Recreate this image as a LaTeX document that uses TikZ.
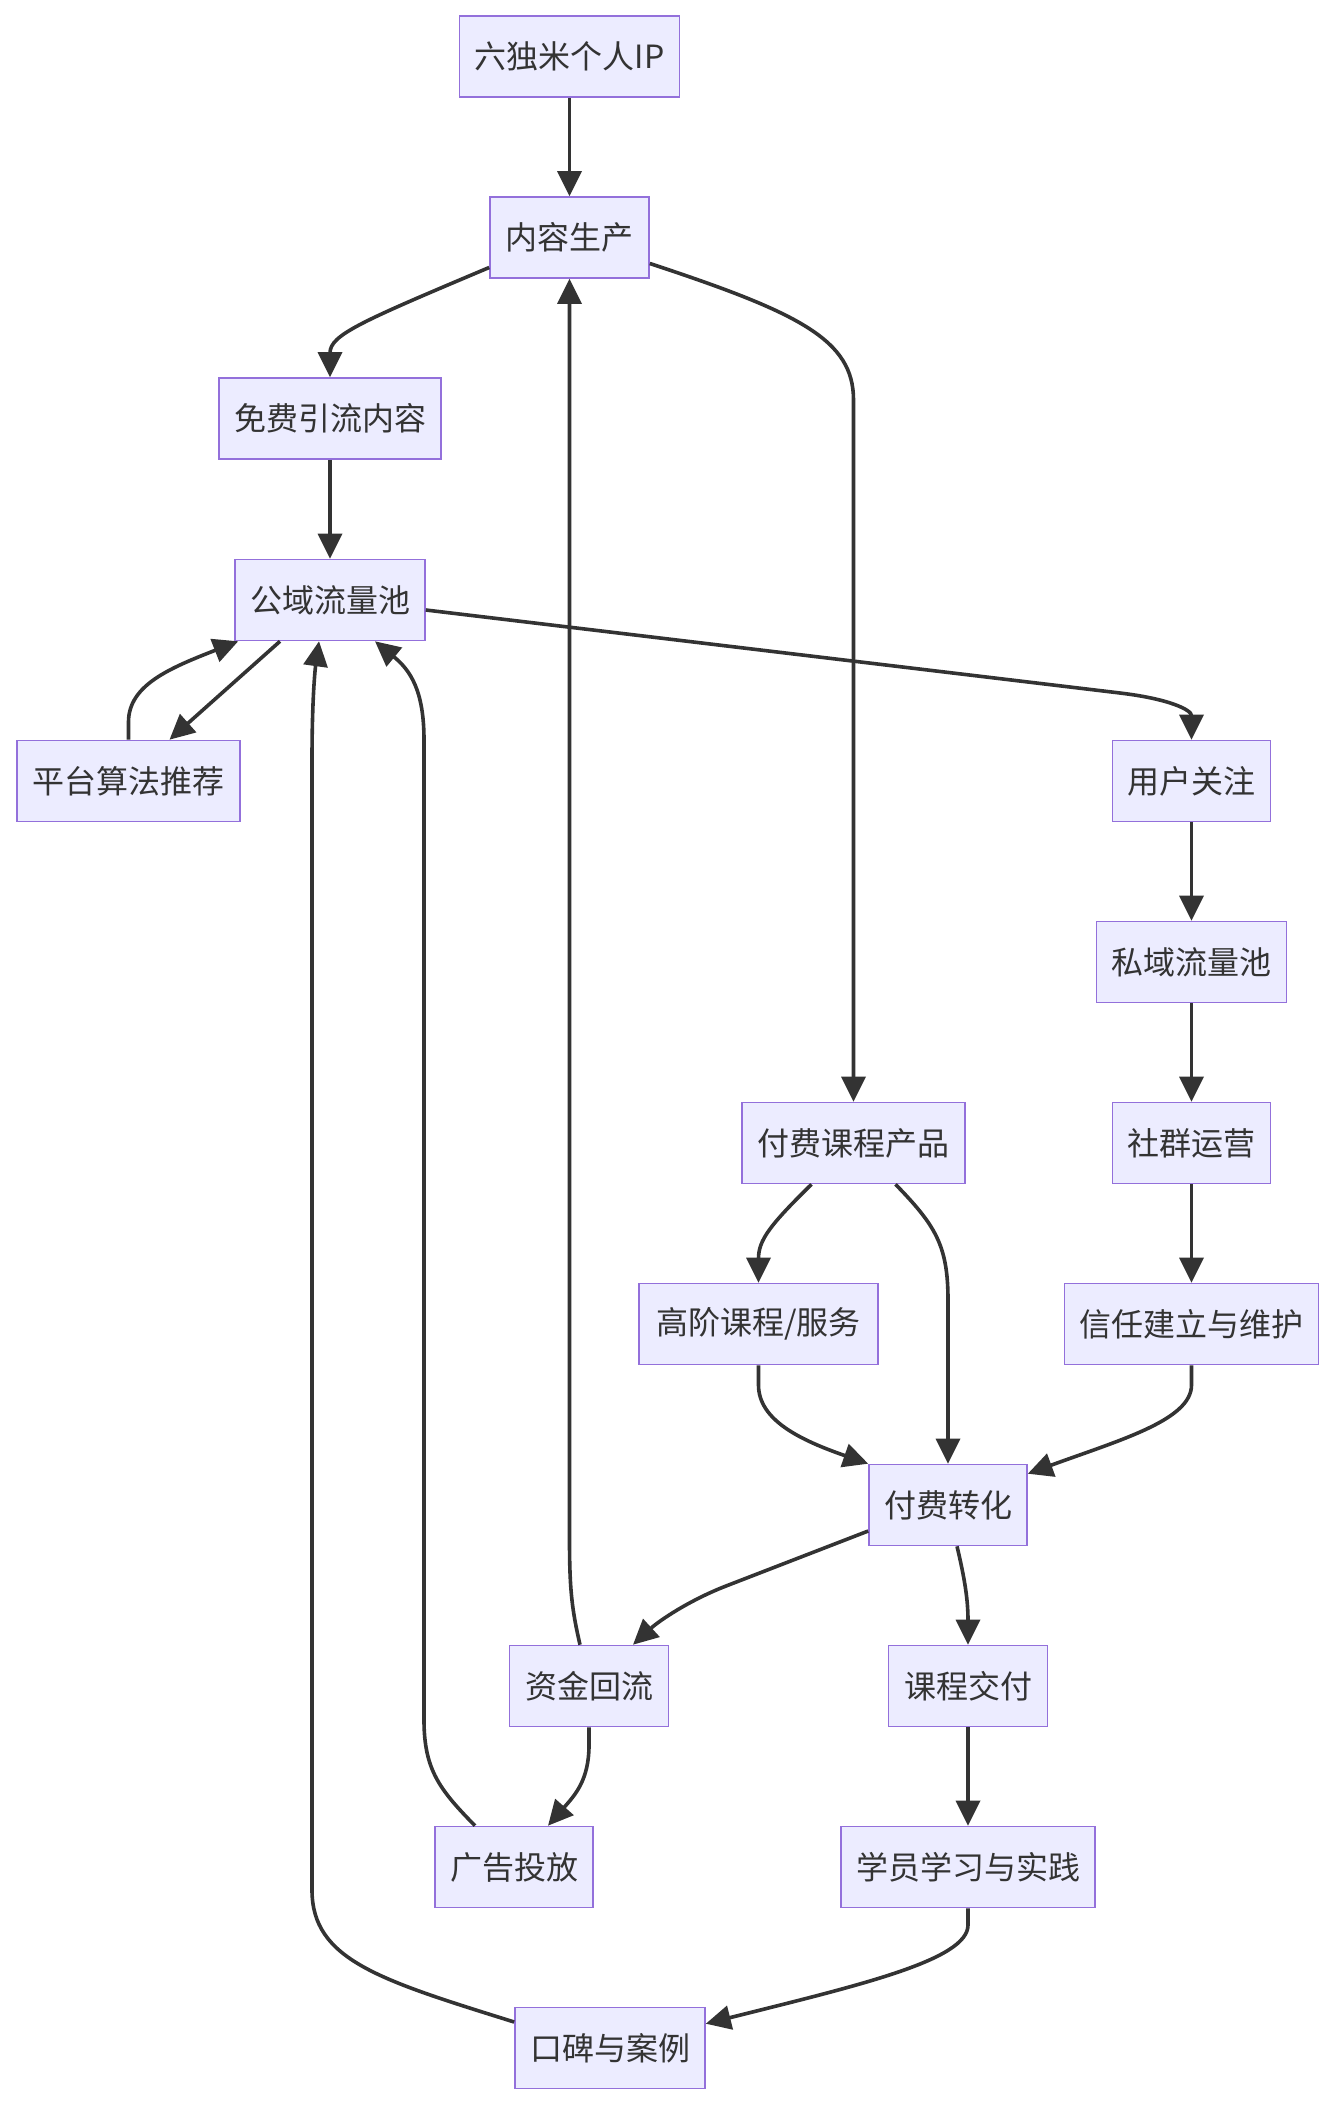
\documentclass[tikz,border=0pt]{standalone}
\usepackage{fontspec}
\setmainfont{Noto Sans CJK SC}
\usetikzlibrary{arrows.meta}
\definecolor{nfill}{HTML}{ECECFF}
\definecolor{nstroke}{HTML}{9370DB}
\definecolor{edgec}{HTML}{333333}
\tikzset{
  box/.style={draw=nstroke, fill=nfill, line width=0.8pt, text=edgec,
    font=\fontsize{16pt}{19pt}\selectfont, inner xsep=7.5pt, inner ysep=0pt,
    minimum height=40.5pt, anchor=center},
  conn/.style={draw=edgec, line width=1.8pt, -{Triangle[length=12.5pt,width=12pt]}}
}
\begin{document}
\begin{tikzpicture}[x=0.5pt,y=-0.5pt]
\useasboundingbox (0,0) rectangle (1336,2108);
\fill[white] (0,0) rectangle (1336,2108);
% nodes
\node[box, minimum width=108.5pt] (ip) at (569.5,56.5) {六独米个人IP};
\node[box, minimum width=79.5pt] (nr) at (569.5,237.5) {内容生产};
\node[box, minimum width=111pt] (mf) at (330,418.5) {免费引流内容};
\node[box, minimum width=95pt] (gy) at (330,600) {公域流量池};
\node[box, minimum width=111.5pt] (pt) at (128.5,781) {平台算法推荐};
\node[box, minimum width=78.5pt] (yh) at (1191.5,781) {用户关注};
\node[box, minimum width=95pt] (sy) at (1191.5,962) {私域流量池};
\node[box, minimum width=111.5pt] (ff) at (853.5,1143) {付费课程产品};
\node[box, minimum width=78.5pt] (sq) at (1191.5,1143) {社群运营};
\node[box, minimum width=119.5pt] (gj) at (758.5,1324) {高阶课程/服务};
\node[box, minimum width=127pt] (xr) at (1191.5,1324) {信任建立与维护};
\node[box, minimum width=78.5pt] (zh) at (948,1505) {付费转化};
\node[box, minimum width=79.5pt] (zj) at (589,1686) {资金回流};
\node[box, minimum width=79.5pt] (kc) at (968,1686) {课程交付};
\node[box, minimum width=79pt] (gg) at (514,1867) {广告投放};
\node[box, minimum width=127pt] (xy) at (968,1867) {学员学习与实践};
\node[box, minimum width=95pt] (kb) at (610,2048) {口碑与案例};
% connectors
\draw[conn] (ip) -- (nr);
\draw[conn] ([yshift=-15pt]nr.west) .. controls (360,322) and (330,335) .. (mf.north);
\draw[conn] ([yshift=-13pt]nr.east) .. controls (800,313) and (853.5,340) .. (853.5,400) -- (ff.north);
\draw[conn] (mf) -- (gy);
\draw[conn] ([xshift=-25pt]gy.south) -- ([xshift=20.5pt]pt.north);
\draw[conn] (pt.north) -- (128.5,722) .. controls (128.5,685) and (170,668) .. ([xshift=2pt]gy.south west);
\draw[conn] ([yshift=-5pt]gy.east) -- (1120,693) .. controls (1170,699) and (1191.5,710) .. (yh.north);
\draw[conn] (yh) -- (sy);
\draw[conn] (sy) -- (sq);
\draw[conn] (sq) -- (xr);
\draw[conn] ([xshift=-21pt]ff.south) .. controls (770,1225) and (758.5,1240) .. (gj.north);
\draw[conn] ([xshift=21pt]ff.south) .. controls (935,1225) and (948,1245) .. (948,1300) -- (zh.north);
\draw[conn] (gj.south) -- (758.5,1385) .. controls (758.5,1420) and (800,1440) .. (zh.north west);
\draw[conn] (xr.south) -- (1191.5,1385) .. controls (1191.5,1420) and (1120,1440) .. ([yshift=-5pt]zh.north east);
\draw[conn] ([yshift=-13pt]zh.west) -- (726,1586) .. controls (690,1600) and (660,1620) .. ([xshift=22pt]zj.north);
\draw[conn] ([xshift=4.5pt]zh.south) .. controls (965,1580) and (968,1600) .. (kc.north);
\draw[conn] ([xshift=-4.5pt]zj.north) .. controls (572,1610) and (569.5,1590) .. (569.5,1540) -- (nr.south);
\draw[conn] (zj.south) -- (589,1745) .. controls (589,1780) and (575,1795) .. ([xshift=17pt]gg.north);
\draw[conn] ([xshift=-19.5pt]gg.north) .. controls (440,1790) and (424,1770) .. (424,1720) -- (424,740) .. controls (424,690) and (410,670) .. ([xshift=22.5pt]gy.south);
\draw[conn] (kc) -- (xy);
\draw[conn] (xy.south) -- (968,1925) .. controls (968,1960) and (860,1985) .. ([yshift=-8.5pt]kb.north east);
\draw[conn] ([yshift=13pt]kb.west) .. controls (380,1980) and (312,1960) .. (312,1890) -- (312,760) .. controls (312,700) and (315,670) .. ([xshift=-5.5pt]gy.south);
\end{tikzpicture}
\end{document}
